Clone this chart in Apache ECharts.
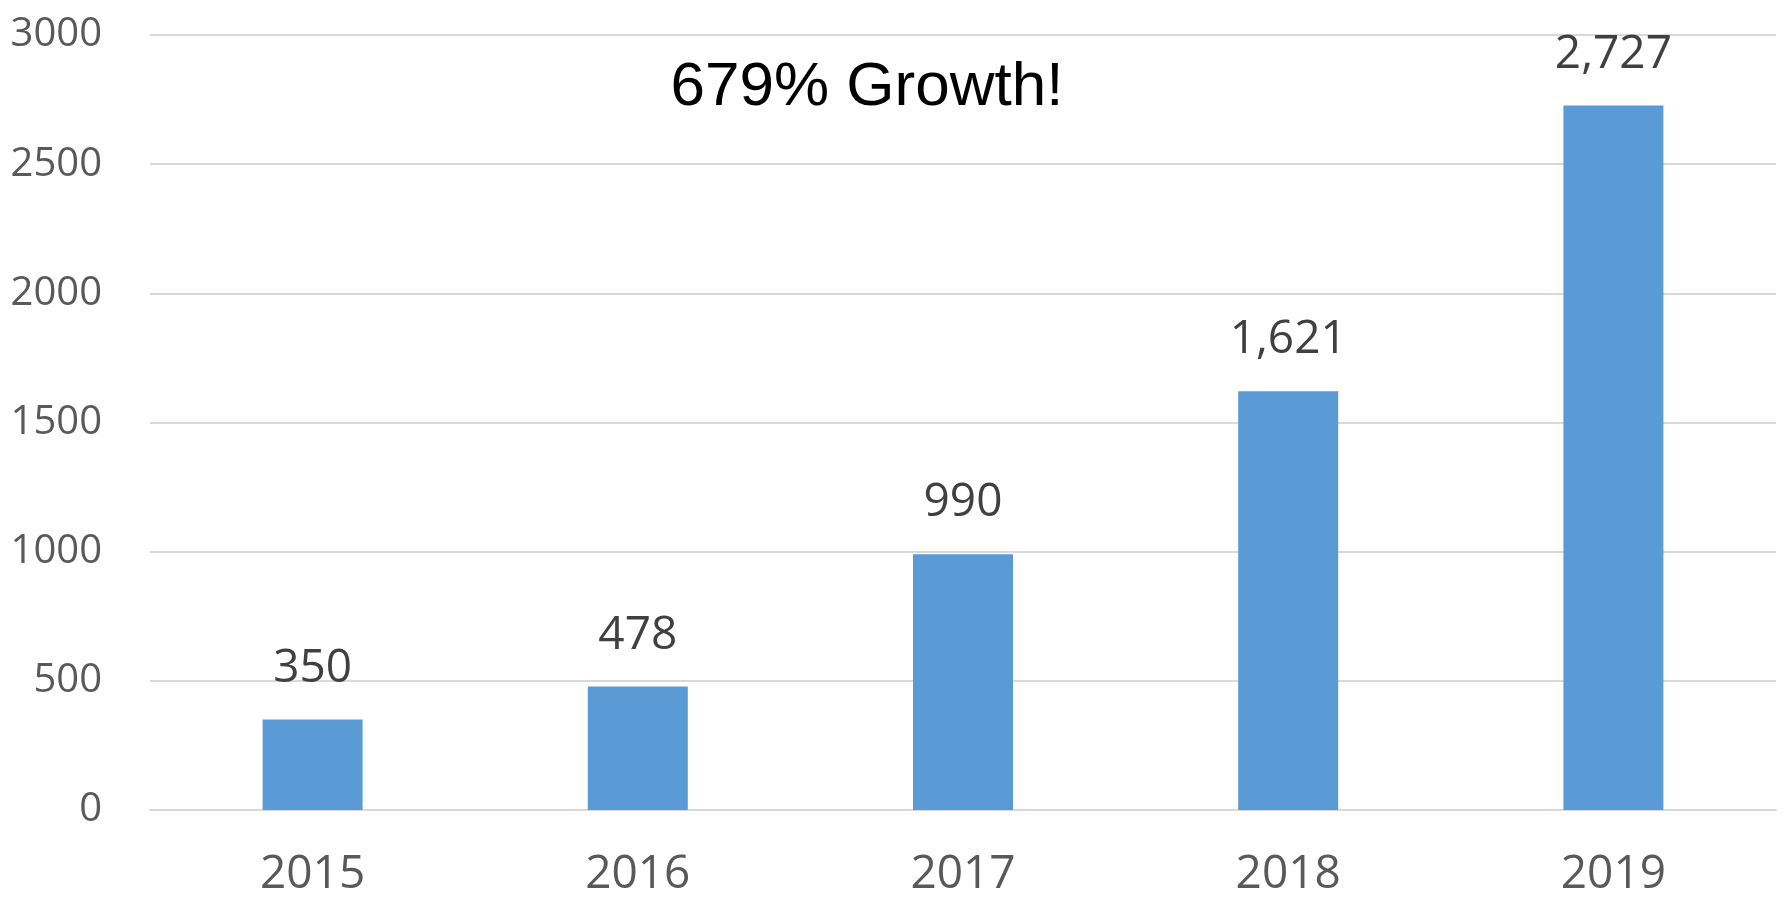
<!DOCTYPE html>
<html><head><meta charset="utf-8">
<script src="https://cdn.jsdelivr.net/npm/echarts@6/dist/echarts.min.js"></script>
<style>html,body{margin:0;padding:0;background:#fff}#c{width:1788px;height:898px}</style>
</head><body><div id="c"></div>
<script>
const categories = ['2015', '2016', '2017', '2018', '2019'];
const values = [350, 478, 990, 1621, 2727];
const titleText = '679% Growth!';

const chart = echarts.init(document.getElementById('c'));
chart.setOption({
  animation: false,
  backgroundColor: '#ffffff',
  grid: { left: 150, right: 12, top: 35, bottom: 88, containLabel: false },
  graphic: [{
    type: 'text', x: 867, y: 88,
    style: { text: titleText, fill: '#000', font: '62px "Liberation Sans", Arial, sans-serif', textAlign: 'center', textVerticalAlign: 'middle' }
  }],
  xAxis: {
    type: 'category', data: categories,
    axisLine: { show: true, lineStyle: { color: '#d9d9d9', width: 2 } },
    axisTick: { show: false },
    axisLabel: { color: '#595959', fontSize: 46, fontFamily: '"Open Sans", sans-serif', margin: 42 }
  },
  yAxis: {
    type: 'value', min: 0, max: 3000, interval: 500,
    axisLine: { show: false }, axisTick: { show: false },
    splitLine: { lineStyle: { color: '#d9d9d9', width: 2 } },
    axisLabel: { color: '#595959', fontSize: 40, fontFamily: '"Open Sans", sans-serif', margin: 48, formatter: v => String(v) }
  },
  series: [{
    type: 'bar', data: values, barWidth: 100,
    itemStyle: { color: '#5b9bd5' },
    label: {
      show: true, position: 'top', distance: 28,
      color: '#404040', fontSize: 46, fontFamily: '"Open Sans", sans-serif',
      formatter: p => p.value.toLocaleString('en-US')
    }
  }]
});
</script></body></html>
